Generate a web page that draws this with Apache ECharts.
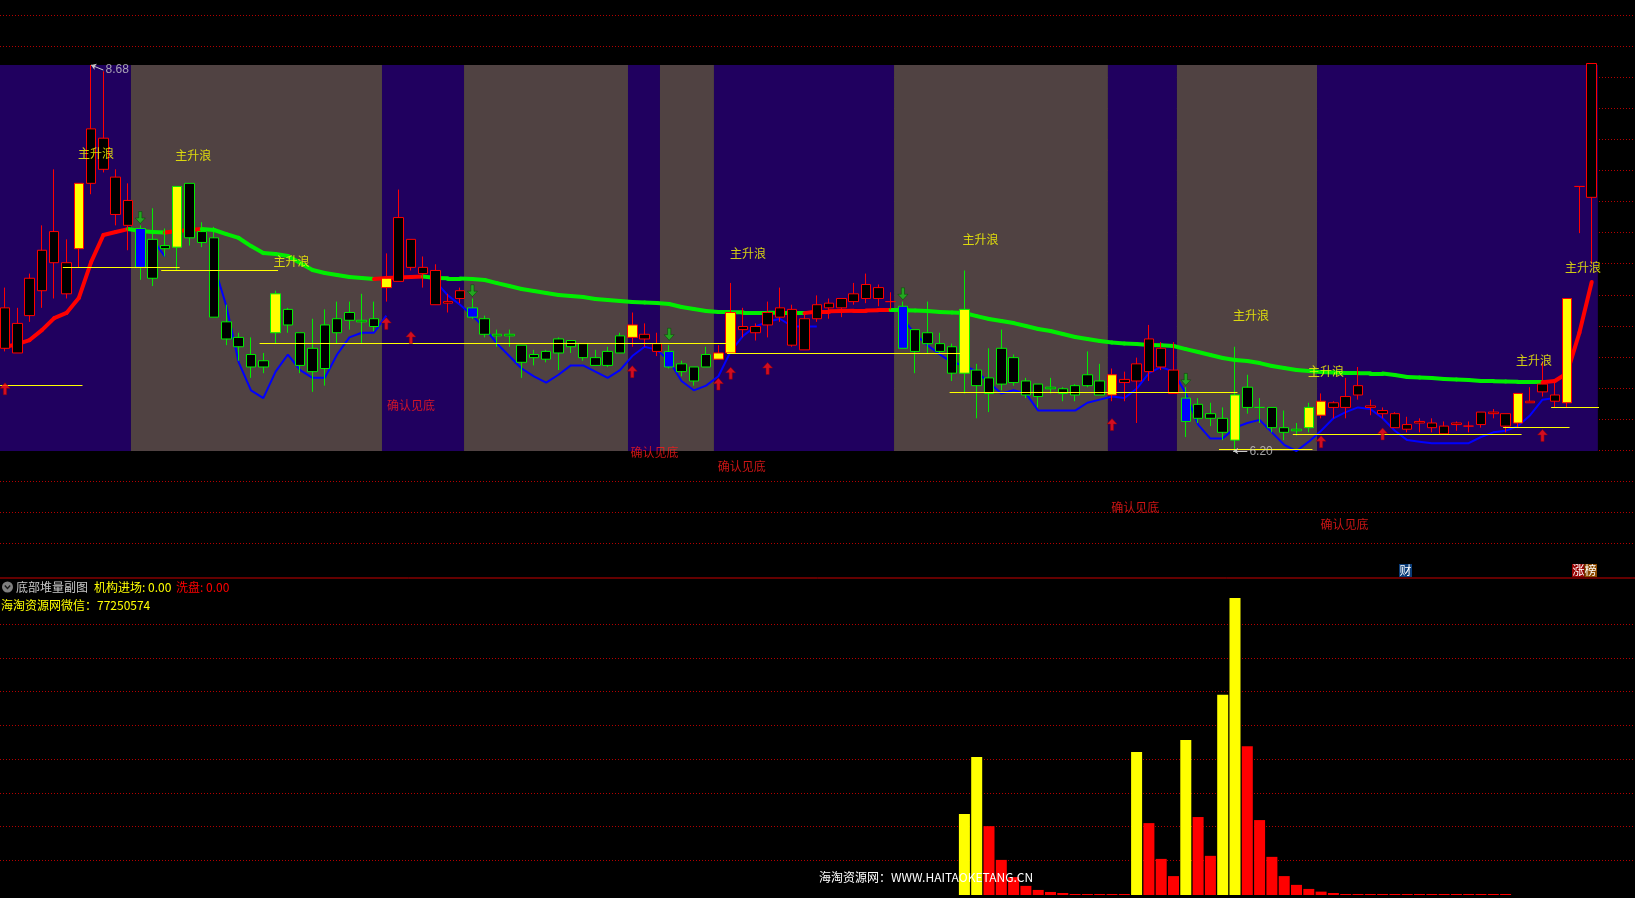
<!DOCTYPE html>
<html><head><meta charset="utf-8">
<script src="https://cdn.jsdelivr.net/npm/echarts@6/dist/echarts.min.js"></script>
<style>html,body{margin:0;padding:0;background:#000;overflow:hidden}#c{width:1635px;height:898px}</style>
</head><body><div id="c"></div>
<script>
// ---------- DATA ----------
const openP = [
 6.86,6.83,7.07,7.23,7.41,7.21,7.50,7.92,8.01,7.72,
 7.65,7.63,7.56,7.52,7.90,7.92,7.61,7.57,7.03,6.93,
 6.82,6.78,7.21,7.11,6.96,6.86,7.01,7.05,7.09,7.04,
 7.05,7.25,7.29,7.38,7.34,7.14,7.15,7.18,7.12,7.05,
 6.95,6.95,6.88,6.82,6.84,6.92,6.91,6.89,6.80,6.84,
 6.94,6.93,6.92,6.84,6.84,6.76,6.74,6.82,6.79,6.83,
 6.98,6.96,7.01,7.06,6.88,6.85,7.05,7.12,7.12,7.16,
 7.18,7.18,7.16,7.13,6.98,6.96,6.89,6.87,7.11,6.72,
 6.67,6.86,6.80,6.65,6.63,6.61,6.60,6.62,6.69,6.65,
 6.56,6.64,6.65,6.71,6.74,6.57,6.54,6.50,6.44,6.41,
 6.56,6.61,6.48,6.48,6.35,6.34,6.48,6.43,6.48,6.48,
 6.56,6.48,6.44,6.35,6.34,6.38,6.35,6.31,6.37,6.36,
 6.37,6.44,6.36,6.38,6.51,6.58,6.52,6.51,7.90,7.83];
const closeP = [
 7.12,7.02,7.31,7.49,7.61,7.41,7.92,8.27,8.21,7.96,
 7.81,7.38,7.31,7.50,7.51,7.57,7.54,7.06,6.92,6.87,
 6.74,6.74,6.96,7.01,6.75,6.71,6.73,6.96,7.04,7.03,
 7.00,7.31,7.70,7.56,7.38,7.36,7.16,7.23,7.06,6.95,
 6.94,6.94,6.77,6.80,6.79,6.83,6.87,6.80,6.75,6.75,
 6.83,7.01,6.95,6.89,6.74,6.71,6.65,6.74,6.83,7.09,
 7.00,7.00,7.09,7.12,7.11,7.05,7.14,7.15,7.18,7.21,
 7.27,7.25,7.16,6.86,6.84,6.89,6.84,6.70,6.70,6.62,
 6.57,6.63,6.64,6.56,6.55,6.60,6.57,6.56,6.62,6.56,
 6.69,6.66,6.76,6.92,6.86,6.72,6.39,6.41,6.41,6.32,
 6.27,6.48,6.48,6.35,6.32,6.33,6.35,6.52,6.51,6.55,
 6.62,6.49,6.46,6.44,6.37,6.39,6.38,6.36,6.38,6.36,
 6.45,6.45,6.44,6.57,6.52,6.63,6.56,7.18,7.90,8.69];
const lowP = [
 6.84,6.83,7.03,7.12,7.18,7.18,7.38,7.85,7.99,7.65,
 7.49,7.30,7.26,7.45,7.36,7.52,7.51,7.06,6.88,6.78,
 6.67,6.70,6.89,6.96,6.70,6.58,6.62,6.89,6.98,6.89,
 6.97,7.16,7.29,7.36,7.25,7.14,7.09,7.15,7.05,6.93,
 6.87,6.87,6.67,6.75,6.77,6.72,6.83,6.78,6.75,6.74,
 6.83,6.87,6.87,6.81,6.73,6.68,6.62,6.74,6.79,6.83,
 6.93,6.91,6.93,7.03,6.87,6.85,7.03,7.05,7.06,7.14,
 7.15,7.13,7.11,6.86,6.70,6.83,6.83,6.65,6.57,6.41,
 6.45,6.59,6.62,6.54,6.48,6.57,6.52,6.52,6.61,6.56,
 6.52,6.52,6.38,6.65,6.72,6.57,6.29,6.38,6.36,6.27,
 6.20,6.44,6.38,6.32,6.27,6.30,6.32,6.41,6.41,6.41,
 6.53,6.43,6.41,6.35,6.32,6.32,6.32,6.31,6.33,6.32,
 6.35,6.41,6.32,6.35,6.51,6.55,6.48,6.48,7.60,7.40];
const highP = [
 7.25,7.12,7.34,7.65,8.01,7.56,7.92,8.68,8.64,8.01,
 7.92,7.65,7.76,7.63,7.90,7.92,7.67,7.64,7.14,6.96,
 6.93,6.83,7.23,7.12,6.96,7.05,7.11,7.16,7.16,7.21,
 7.16,7.47,7.88,7.56,7.45,7.40,7.21,7.25,7.18,7.07,
 6.98,6.98,6.88,6.85,6.85,6.93,6.91,6.89,6.85,6.87,
 6.96,7.09,7.02,6.96,6.88,6.78,6.74,6.87,6.88,7.28,
 7.12,7.02,7.16,7.25,7.14,7.09,7.20,7.18,7.18,7.28,
 7.34,7.27,7.22,7.16,6.98,7.16,6.96,6.89,7.36,6.76,
 6.86,6.98,6.82,6.67,6.63,6.67,6.61,6.63,6.84,6.76,
 6.73,6.71,6.80,7.01,6.90,6.90,6.61,6.54,6.51,6.48,
 6.87,6.69,6.54,6.48,6.46,6.38,6.51,6.57,6.52,6.67,
 6.74,6.53,6.48,6.45,6.42,6.41,6.41,6.39,6.39,6.39,
 6.45,6.47,6.44,6.57,6.61,6.77,6.66,7.18,7.90,8.69];
// thick trend line (red when rising, green when falling)
const trendLine = [
 6.868,6.887,6.913,6.977,7.054,7.087,7.183,7.414,7.588,7.607,
 7.626,7.614,7.607,7.604,7.614,7.620,7.626,7.620,7.594,7.569,
 7.517,7.472,7.466,7.453,7.408,7.363,7.344,7.331,7.318,7.312,
 7.305,7.312,7.315,7.318,7.321,7.312,7.310,7.308,7.305,7.299,
 7.279,7.260,7.241,7.228,7.215,7.202,7.196,7.189,7.177,7.170,
 7.164,7.157,7.155,7.151,7.145,7.125,7.112,7.100,7.093,7.092,
 7.091,7.090,7.089,7.088,7.087,7.086,7.096,7.098,7.100,7.102,
 7.103,7.105,7.106,7.105,7.103,7.100,7.093,7.090,7.087,7.067,
 7.048,7.035,7.022,7.003,6.984,6.971,6.952,6.933,6.920,6.907,
 6.897,6.891,6.888,6.881,6.879,6.875,6.855,6.836,6.817,6.798,
 6.785,6.778,6.765,6.746,6.733,6.720,6.714,6.708,6.705,6.701,
 6.700,6.699,6.698,6.688,6.675,6.672,6.669,6.663,6.660,6.656,
 6.650,6.649,6.647,6.645,6.643,6.642,6.650,6.700,6.960,7.286];
// blue support line (only drawn where visible)
const blueLine = [
 null,null,null,null,null,null,null,null,null,null,null,null,
 7.56,7.45,null,null,null,
 7.39,7.13,6.77,6.59,6.54,6.71,6.82,6.72,6.67,6.67,6.82,6.93,6.96,6.96,7.07,
 null,null,null,
 7.29,7.20,7.14,7.07,6.99,6.89,6.81,6.73,6.68,6.64,6.69,6.75,6.75,6.71,6.67,6.72,
 6.81,6.87,6.85,6.78,6.65,6.59,6.62,6.68,6.84,6.94,7.00,7.03,7.05,7.00,7.00,7.00,
 null,null,null,null,null,null,
 7.05,6.95,6.88,6.82,6.77,6.75,6.71,6.64,6.57,6.59,6.57,6.46,6.46,6.46,6.46,6.51,
 6.53,6.55,6.54,6.60,6.70,6.74,6.71,6.57,6.37,6.28,6.28,6.35,6.38,6.40,6.32,6.24,
 6.20,6.26,6.33,6.41,6.45,6.48,6.47,6.41,6.33,6.27,6.26,6.25,6.25,6.25,6.25,6.29,
 6.32,6.33,6.36,6.43,6.53,6.54,
 null,null,null];
const yellowSignal = [6,14,22,31,51,58,59,78,90,100,106,107,123,127];
const blueSignal = [11,38,54,73,96];
// background band edges (in candle units), alternating purple / brown
const bandEdges = [-0.41,10.24,30.65,37.32,50.65,53.25,57.64,72.28,89.67,95.28,106.67,129.67];
const bandColors = ['#20005f','#504242'];
const upArrows = [[0,6.60],[31,7.02],[33,6.93],[51,6.71],[58,6.63],[59,6.70],[62,6.73],[90,6.37],[107,6.26],[112,6.31],[125,6.30]];
const downArrows = [[11,7.70],[38,7.23],[54,6.95],[73,7.21],[96,6.66]];
const waveLabels = [[7.4,8.11],[15.3,8.10],[23.3,7.42],[60.4,7.47],[79.3,7.56],[101.3,7.07],[107.4,6.71],[124.3,6.78],[128.3,7.38]];
const bottomLabels = [[33.0,6.49],[52.8,6.19],[59.9,6.10],[91.9,5.84],[108.9,5.73]];
// yellow horizontal support segments: [fromIdx, toIdx, price]
const supportLines = [[-0.4,6.3,6.62],[4.7,14.2,7.38],[12.7,22.2,7.36],[20.7,58.7,6.89],[58.7,77.8,6.83],
  [76.8,100.2,6.58],[98.7,106.3,6.21],[104.7,123.3,6.31],[121.8,127.2,6.35],[125.7,130.2,6.48]];
const highMark = [7, 8.68];
const lowMark = [100, 6.20];
// sub chart: bottom volume stack
const volYellow = {78:2.40,79:4.09,92:4.24,96:4.59,99:5.93,100:8.80};
const volRed = {80:2.04,81:1.04,82:0.53,83:0.27,84:0.15,85:0.09,86:0.06,87:0.03,88:0.03,89:0.03,90:0.03,91:0.03,
  93:2.13,94:1.07,95:0.56,97:2.31,98:1.16,101:4.41,102:2.22,103:1.13,104:0.56,105:0.30,106:0.18,107:0.10,108:0.06,
  109:0.03,110:0.03,111:0.03,112:0.03,113:0.03,114:0.03,115:0.03,116:0.03,117:0.03,118:0.03,119:0.03,120:0.03,121:0.03,122:0.03};

// ---------- BUILD ----------
const N = openP.length;
const categories = openP.map((_, i) => String(i + 1));
const CJK = '"Noto Sans CJK SC", sans-serif';
const RED = '#ff0000', GREEN = '#00ee00', YEL = '#ffff00';

function inPurple(i) {
  for (let k = 0; k < bandEdges.length - 1; k++) {
    if (i >= bandEdges[k] && i < bandEdges[k + 1]) return k % 2 === 0;
  }
  return true;
}
const candleData = openP.map((o, i) => {
  const bc = inPurple(i) ? RED : GREEN;
  const fill = yellowSignal.includes(i) ? YEL : (blueSignal.includes(i) ? '#0000ff' : '#000000');
  return { value: [o, closeP[i], lowP[i], highP[i]],
    itemStyle: { color: fill, color0: fill, borderColor: bc, borderColor0: bc, borderColorDoji: bc, borderWidth: 1 } };
});
const trendSegs = [];
let lastUp = true;
for (let i = 0; i < N - 1; i++) {
  const d = trendLine[i + 1] - trendLine[i];
  const up = d > 0 ? true : (d < 0 ? false : lastUp);
  lastUp = up;
  trendSegs.push({ coords: [[i, trendLine[i]], [i + 1, trendLine[i + 1]]], lineStyle: { color: up ? RED : GREEN } });
}
const bandAreas = [];
for (let k = 0; k < bandEdges.length - 1; k++) {
  bandAreas.push([{ xAxis: bandEdges[k], yAxis: lowMark[1], itemStyle: { color: bandColors[k % 2] } },
                  { xAxis: bandEdges[k + 1], yAxis: highMark[1] }]);
}
const supportSegs = supportLines.map(s => ({ coords: [[s[0], s[2]], [s[1], s[2]]] }));
const volData = categories.map((_, i) => {
  if (volYellow[i] !== undefined) return { value: volYellow[i], itemStyle: { color: YEL } };
  if (volRed[i] !== undefined) return { value: volRed[i], itemStyle: { color: RED } };
  return '-';
});

const upPath = 'path://M5,0 L10,6 L6.6,6 L6.6,13 L3.4,13 L3.4,6 L0,6 Z';
const downPath = 'path://M3.4,0 L6.6,0 L6.6,7 L10,7 L5,13 L0,7 L3.4,7 Z';
const dots = { color: '#b40000', type: [1, 2], width: 1 };

const chart = echarts.init(document.getElementById('c'), null, { renderer: 'canvas' });
const labelScatter = (data, text, color, xi) => ({
  type: 'scatter', xAxisIndex: xi, yAxisIndex: 0, data, symbol: 'rect', symbolSize: 1, z: 8, silent: true,
  itemStyle: { color: 'rgba(0,0,0,0)' },
  label: { show: true, position: 'inside', formatter: text, color, fontSize: 12, fontFamily: CJK }
});

chart.setOption({
  backgroundColor: '#000000',
  animation: false,
  grid: [
    { left: -1.15, width: 1599, top: 0, height: 578, outerBoundsMode: 'none' },
    { left: -1.15, width: 1599, top: 591.25, height: 303.75, outerBoundsMode: 'none' },
    { left: 0, right: 0, top: 15, height: 528.5, outerBoundsMode: 'none' },
    { left: 0, right: 0, top: 624, height: 236.25, outerBoundsMode: 'none' }
  ],
  xAxis: [
    { type: 'category', gridIndex: 0, data: categories, show: false },
    { type: 'value', gridIndex: 0, min: -0.5, max: N - 0.5, show: false },
    { type: 'category', gridIndex: 1, data: categories, show: false },
    { type: 'value', gridIndex: 2, min: 0, max: 1, show: false },
    { type: 'value', gridIndex: 3, min: 0, max: 1, show: false }
  ],
  yAxis: [
    { type: 'value', gridIndex: 0, min: 5.384, max: 9.098, show: false },
    { type: 'value', gridIndex: 1, min: 0, max: 9, show: false },
    { type: 'value', gridIndex: 2, min: 0, max: 17, interval: 1, axisLine: { show: false }, axisTick: { show: false },
      axisLabel: { show: false }, splitLine: { show: true, lineStyle: dots } },
    { type: 'value', gridIndex: 3, min: 0, max: 7, interval: 1, axisLine: { show: false }, axisTick: { show: false },
      axisLabel: { show: false }, splitLine: { show: true, lineStyle: dots } }
  ],
  series: [
    { type: 'line', xAxisIndex: 1, yAxisIndex: 0, data: bandEdges.map(e => [e, lowMark[1]]), showSymbol: false,
      lineStyle: { opacity: 0 }, silent: true, z: 1, markArea: { silent: true, data: bandAreas } },
    { type: 'lines', coordinateSystem: 'cartesian2d', xAxisIndex: 1, yAxisIndex: 0, data: trendSegs, silent: true, z: 3,
      lineStyle: { width: 4, cap: 'round', opacity: 1 } },
    { type: 'line', xAxisIndex: 0, yAxisIndex: 0, data: blueLine, showSymbol: false, connectNulls: false, silent: true, z: 3,
      lineStyle: { color: '#0000ff', width: 2 } },
    { type: 'candlestick', xAxisIndex: 0, yAxisIndex: 0, data: candleData, barWidth: 10, z: 5, silent: true },
    { type: 'lines', coordinateSystem: 'cartesian2d', xAxisIndex: 1, yAxisIndex: 0, data: supportSegs, silent: true, z: 6,
      lineStyle: { color: YEL, width: 1, opacity: 1 } },
    { type: 'scatter', xAxisIndex: 0, yAxisIndex: 0, data: upArrows, symbol: upPath, symbolSize: [10, 12], z: 7, silent: true,
      itemStyle: { color: '#ff1010', borderColor: '#900000', borderWidth: 0.6 } },
    { type: 'scatter', xAxisIndex: 0, yAxisIndex: 0, data: downArrows, symbol: downPath, symbolSize: [10, 12], z: 7, silent: true,
      itemStyle: { color: '#18c018', borderColor: '#004000', borderWidth: 0.6 } },
    labelScatter(waveLabels, '主升浪', YEL, 1),
    labelScatter(bottomLabels, '确认见底', '#ff1a1a', 1),
    { type: 'lines', coordinateSystem: 'cartesian2d', xAxisIndex: 1, yAxisIndex: 0, silent: true, z: 8,
      symbol: ['arrow', 'none'], symbolSize: 5,
      data: [ { coords: [[highMark[0], highMark[1]], [highMark[0] + 1.0, highMark[1] - 0.032]] },
              { coords: [[lowMark[0] - 0.15, lowMark[1]], [lowMark[0] + 1.0, lowMark[1]]] } ],
      lineStyle: { color: '#c8c8c8', width: 1, opacity: 1 } },
    { type: 'scatter', xAxisIndex: 1, yAxisIndex: 0, symbol: 'rect', symbolSize: 1, z: 8, silent: true,
      itemStyle: { color: 'rgba(0,0,0,0)' },
      data: [ { value: [highMark[0] + 1.05, highMark[1] - 0.032], label: { formatter: highMark[1].toFixed(2) } },
              { value: [lowMark[0] + 1.05, lowMark[1] - 0.006], label: { formatter: lowMark[1].toFixed(2) } } ],
      label: { show: true, position: 'right', distance: 1, color: '#c8c8c8', fontSize: 12, fontFamily: '"Liberation Sans", sans-serif' } },
    { type: 'bar', xAxisIndex: 2, yAxisIndex: 1, data: volData, barWidth: 11, silent: true, z: 3 }
  ],
  graphic: [
    { type: 'line', shape: { x1: 0, y1: 578, x2: 1635, y2: 578 }, style: { stroke: '#c80000', lineWidth: 1 }, silent: true },
    { type: 'circle', shape: { cx: 7.5, cy: 587, r: 5.5 }, style: { fill: '#808080' }, silent: true },
    { type: 'polyline', shape: { points: [[4.8, 585.5], [7.5, 588.5], [10.2, 585.5]] }, style: { stroke: '#1a1a1a', lineWidth: 1.4, fill: null }, silent: true },
    { type: 'text', x: 16, y: 587, style: { text: '底部堆量副图', fill: '#c8c8c8', font: '12px ' + CJK, verticalAlign: 'middle' }, silent: true },
    { type: 'text', x: 94, y: 587, style: { text: '机构进场: 0.00', fill: YEL, font: '12px ' + CJK, verticalAlign: 'middle' }, silent: true },
    { type: 'text', x: 176, y: 587, style: { text: '洗盘: 0.00', fill: RED, font: '12px ' + CJK, verticalAlign: 'middle' }, silent: true },
    { type: 'text', x: 1, y: 605, style: { text: '海淘资源网微信：77250574', fill: YEL, font: '12px ' + CJK, verticalAlign: 'middle' }, silent: true },
    { type: 'text', x: 926, y: 877, z: 100, style: { text: '海淘资源网：WWW.HAITAOKETANG.CN', fill: '#ffffff', font: '12px ' + CJK, align: 'center', verticalAlign: 'middle' }, silent: true },
    { type: 'rect', shape: { x: 1399, y: 564, width: 13, height: 13 }, style: { fill: '#0a3c78' }, silent: true },
    { type: 'text', x: 1405.5, y: 570.5, style: { text: '财', fill: '#ffffff', font: '12px ' + CJK, align: 'center', verticalAlign: 'middle' }, silent: true },
    { type: 'rect', shape: { x: 1572, y: 564, width: 12.5, height: 13 }, style: { fill: '#960000' }, silent: true },
    { type: 'rect', shape: { x: 1584.5, y: 564, width: 12.5, height: 13 }, style: { fill: '#8b4a00' }, silent: true },
    { type: 'text', x: 1584.5, y: 570.5, style: { text: '涨榜', fill: '#ffffff', font: '12px ' + CJK, align: 'center', verticalAlign: 'middle' }, silent: true }
  ]
});
</script>
</body></html>
